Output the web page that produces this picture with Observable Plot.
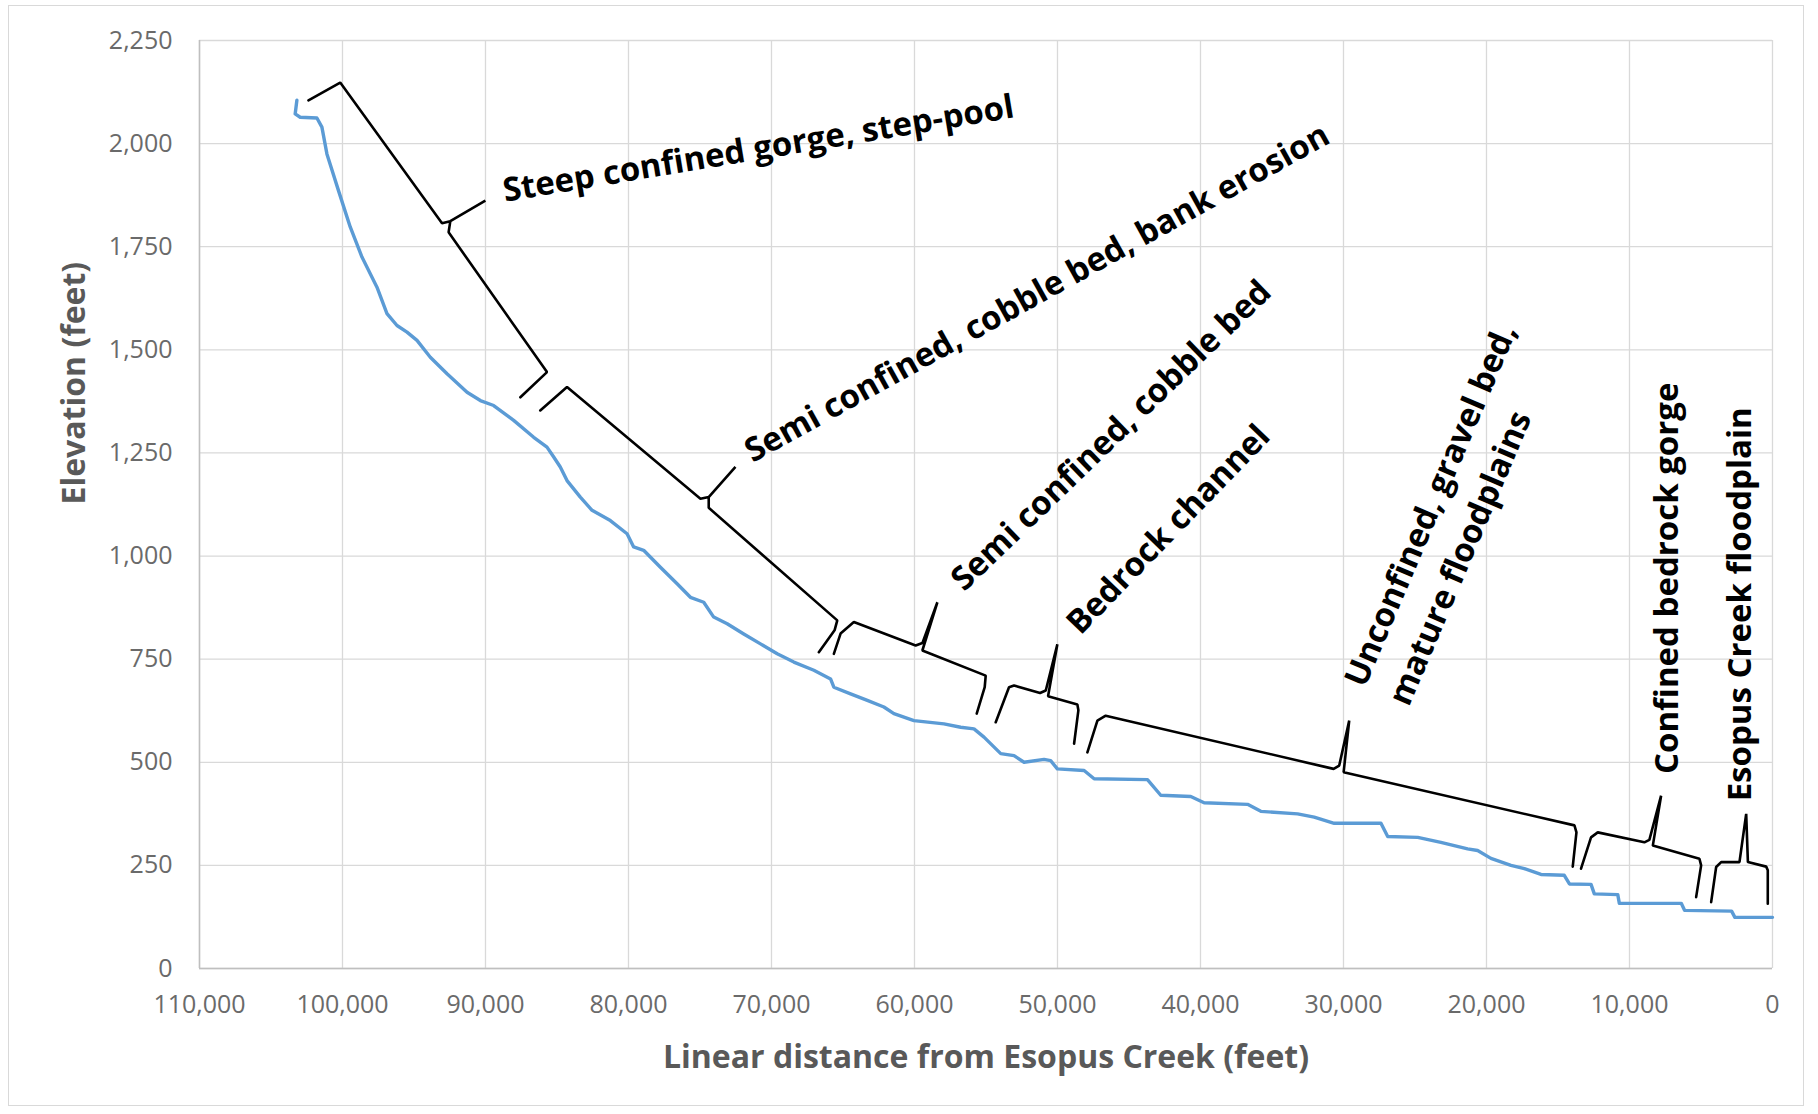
<!DOCTYPE html>
<html>
<head>
<meta charset="utf-8">
<script src="https://cdn.jsdelivr.net/npm/d3@7"></script>
<script src="https://cdn.jsdelivr.net/npm/@observablehq/plot@0.6"></script>
<style>
  html, body { margin: 0; padding: 0; background: #fff; }
  #wrap { position: relative; width: 1818px; height: 1114px; overflow: hidden; }
  #frame { position: absolute; left: 8px; top: 5px; width: 1796px; height: 1101px; border: 1.5px solid #d9d9d9; box-sizing: border-box; pointer-events: none; }
</style>
</head>
<body>
<div id="wrap"><div id="frame"></div></div>
<script>
// ---- Data ----
const xTicks = [110000, 100000, 90000, 80000, 70000, 60000, 50000, 40000, 30000, 20000, 10000, 0];
const yTicks = [0, 250, 500, 750, 1000, 1250, 1500, 1750, 2000, 2250];

// Stream profile: distance from Esopus Creek (ft) and elevation (ft)
const profileX = [103190, 103310, 102960, 101790, 101440, 101090, 100280, 99460, 98640, 97590,
  96890, 96190, 95490, 94790, 93860, 92690, 91290, 90360, 89430, 88030,
  86630, 85700, 85230, 84770, 84300, 83370, 82550, 81270, 80100, 79640,
  78940, 77770, 76600, 75670, 74740, 74040, 73100, 71940, 70770, 69600,
  68440, 67040, 65870, 65640, 64470, 63300, 62140, 61440, 60040, 57940,
  56770, 55840, 55140, 53970, 53040, 52340, 50940, 50480, 50010, 48140,
  47440, 43710, 42780, 40680, 39750, 36710, 35780, 33210, 32050, 30650,
  27380, 26910, 24810, 23190, 21320, 20620, 19690, 18290, 17350, 16190,
  14560, 14200, 12690, 12460, 10820, 10710, 6380, 6150, 2860, 2630, 0];
const profileY = [2105, 2072, 2064, 2062, 2040, 1975, 1886, 1798, 1725, 1652,
  1588, 1559, 1543, 1523, 1482, 1442, 1397, 1377, 1365, 1329,
  1288, 1264, 1240, 1216, 1183, 1143, 1111, 1086, 1054, 1022,
  1014, 973, 933, 900, 888, 852, 836, 811, 787, 763,
  743, 723, 702, 682, 666, 650, 634, 618, 601, 593,
  585, 581, 561, 521, 516, 500, 507, 504, 484, 480,
  460, 458, 420, 417, 402, 398, 381, 375, 367, 352,
  352, 320, 318, 306, 290, 286, 267, 250, 242, 228,
  226, 205, 204, 181, 179, 158, 158, 141, 139, 124, 124];

// Reach brackets (braces) in data coordinates
const bracketId = [
  1,1,1,1,1,1,1,1,1,
  2,2,2,2,2,2,2,2,2,2,2,
  3,3,3,3,3,3,3,3,3,3,3,
  4,4,4,4,4,4,4,4,4,4,4,
  5,5,5,5,5,5,5,5,5,5,5,
  6,6,6,6,6,6,6,6,6,6,6,
  7,7,7,7,7,7,7,7,7,7];
const bracketX = [
  102380, 100160, 93040, 92460, 90010, 92460, 92580, 85700, 87560,
  86170, 84300, 74970, 74390, 72520, 74390, 74390, 65400, 65590, 66690, 66690,
  65640, 65170, 64240, 59920, 59450, 58400, 59450, 55020, 55090, 55650, 55650,
  54320, 53390, 53040, 51220, 50820, 50010, 50660, 48610, 48540, 48840, 48840,
  47910, 47210, 46630, 30690, 30300, 29600, 29990, 13850, 13710, 13970, 13970,
  13390, 12690, 12220, 8960, 8610, 7790, 8370, 5110, 4990, 5340, 5340,
  4290, 3940, 3590, 2310, 1840, 1720, 440, 330, 330, 330];
const bracketY = [
  2105, 2148, 1807, 1812, 1862, 1812, 1785, 1446, 1385,
  1353, 1410, 1139, 1143, 1216, 1143, 1117, 844, 820, 767, 767,
  763, 812, 840, 783, 789, 888, 771, 710, 682, 618, 618,
  597, 682, 686, 668, 674, 786, 660, 640, 626, 545, 545,
  524, 601, 613, 484, 492, 601, 476, 347, 330, 247, 247,
  242, 318, 330, 306, 312, 419, 298, 266, 250, 173, 173,
  161, 246, 258, 258, 375, 258, 247, 238, 157, 157];

// Reach labels (centered)
const labelText = [
  "Steep confined gorge, step-pool",
  "Semi confined, cobble bed, bank erosion",
  "Semi confined, cobble bed",
  "Bedrock channel",
  "Confined bedrock gorge",
  "Esopus Creek floodplain"];
const labelX = [70910, 51420, 46240, 42240, 7320, 2260];
const labelY = [1987, 1637, 1292, 1064, 946, 883];
const labelAngle = [-9.4, -29, -44, -46, -90, -90];

// Two-line label (start-aligned)
const label2Text = ["Unconfined, gravel bed,\nmature floodplains"];
const label2X = [27960];
const label2Y = [670];
const label2Angle = [-67];

const xTitle = "Linear distance from Esopus Creek (feet)";
const yTitle = "Elevation (feet)";

// ---- Build tables ----
const profile = profileX.map((x, i) => ({x, y: profileY[i]}));
const brackets = bracketX.map((x, i) => ({id: bracketId[i], x, y: bracketY[i]}));
const labels = labelText.map((t, i) => ({t, x: labelX[i], y: labelY[i], a: labelAngle[i]}));
const labels2 = label2Text.map((t, i) => ({t, x: label2X[i], y: label2Y[i], a: label2Angle[i]}));

const fmt = d3.format(",");
const FONT = "'Open Sans', 'DejaVu Sans', sans-serif";

const chart = Plot.plot({
  width: 1818,
  height: 1114,
  marginLeft: 199,
  marginRight: 46,
  marginTop: 40,
  marginBottom: 146,
  style: {background: "transparent", fontFamily: FONT, overflow: "visible"},
  x: {domain: [110000, 0], label: null},
  y: {domain: [0, 2250], label: null},
  marks: [
    Plot.gridX(xTicks, {stroke: "#d9d9d9", strokeOpacity: 1, strokeWidth: 1.3}),
    Plot.gridY(yTicks, {stroke: "#d9d9d9", strokeOpacity: 1, strokeWidth: 1.3}),
    Plot.ruleY([0], {stroke: "#bfbfbf", strokeWidth: 1.5}),
    Plot.ruleX([110000], {stroke: "#bfbfbf", strokeWidth: 1.5}),
    Plot.axisX({ticks: xTicks, tickFormat: fmt, tickSize: 0, tickPadding: 27, fontSize: 25, fill: "#6a6a6a", label: null}),
    Plot.axisY({ticks: yTicks, tickFormat: fmt, tickSize: 0, tickPadding: 27, fontSize: 25, fill: "#6a6a6a", label: null}),
    Plot.text([xTitle], {frameAnchor: "bottom", dy: 99, text: d => d, fontSize: 32, fontWeight: "bold", fill: "#595959"}),
    Plot.text([yTitle], {frameAnchor: "left", dx: -125, rotate: -90, text: d => d, fontSize: 32, fontWeight: "bold", fill: "#595959"}),
    Plot.line(profile, {x: "x", y: "y", stroke: "#5B9BD5", strokeWidth: 3.4}),
    Plot.line(brackets, {x: "x", y: "y", z: "id", stroke: "#000", strokeWidth: 2.6, strokeLinejoin: "miter"}),
    Plot.text(labels, {x: "x", y: "y", text: "t", rotate: "a", textAnchor: "middle", fontSize: 33, fontWeight: "bold", fill: "#000"}),
    Plot.text(labels2, {x: "x", y: "y", text: "t", rotate: "a", textAnchor: "start", lineHeight: 1.45, fontSize: 33, fontWeight: "bold", fill: "#000"})
  ]
});
document.getElementById("wrap").insertBefore(chart, document.getElementById("frame"));
</script>
</body>
</html>
